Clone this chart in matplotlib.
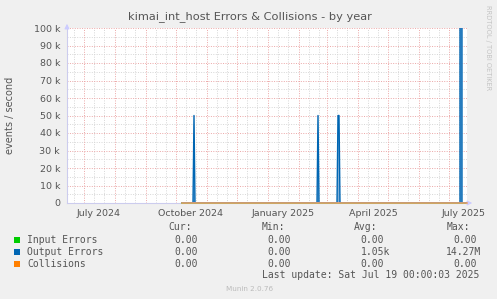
#!/usr/bin/env python3

import numpy as np
import pandas as pd
import matplotlib
matplotlib.use("Agg")
import matplotlib.pyplot as plt
from matplotlib.patches import Rectangle

# --- Data ---
graph_start = "2024-06-14"
graph_end = "2025-07-19"

# output errors: flat zero with a few one-day spikes
output_dates = ["2024-10-07", "2024-10-18", "2024-10-19", "2024-10-20",
                "2025-02-19", "2025-02-20", "2025-02-21",
                "2025-03-11", "2025-03-12", "2025-03-13", "2025-03-14",
                "2025-07-12", "2025-07-13", "2025-07-14", "2025-07-19"]
output_values = [0, 0, 50000, 0,
                 0, 50000, 0,
                 0, 50000, 50000, 0,
                 0, 14270000, 0, 0]

# input errors and collisions stay at zero
flat_dates = ["2024-10-07", "2025-07-19"]
input_values = [0, 0]
collision_values = [0, 0]

y_ticks = [0, 10000, 20000, 30000, 40000, 50000, 60000, 70000, 80000, 90000, 100000]
y_tick_labels = ["0", "10 k", "20 k", "30 k", "40 k", "50 k", "60 k", "70 k", "80 k", "90 k", "100 k"]
x_label_dates = ["2024-07-16", "2024-10-16", "2025-01-16", "2025-04-16", "2025-07-16"]
x_tick_labels = ["July 2024", "October 2024", "January 2025", "April 2025", "July 2025"]

legend_names = ["Input Errors", "Output Errors", "Collisions"]
legend_colors = ["#00cc00", "#0066b3", "#ff8000"]
cur_vals = ["0.00", "0.00", "0.00"]
min_vals = ["0.00", "0.00", "0.00"]
avg_vals = ["0.00", "1.05k", "0.00"]
max_vals = ["0.00", "14.27M", "0.00"]

W, H = 497, 299
BG = "#f0f0f0"
TXT = "#555555"


def px(x, y):
    """pixel coords (top-left origin) -> figure fraction"""
    return x / W, 1 - y / H


fig = plt.figure(figsize=(W / 100, H / 100), dpi=100, facecolor=BG)
ax = fig.add_axes([67 / W, 1 - 203 / H, 400 / W, 175 / H])
ax.set_facecolor("white")

t0 = pd.Timestamp(graph_start)
t1 = pd.Timestamp(graph_end)
ax.set_xlim(t0, t1)
ax.set_ylim(0, 100000)

# --- grid ---
dotted = (0, (1, 1.5))
months = pd.date_range(t0, t1, freq="MS")
for m in months.union(pd.DatetimeIndex([t0.replace(day=1)])):
    for day in (11, 21):
        d = m.replace(day=day)
        if t0 < d < t1:
            ax.axvline(d, color="#d6d6d6", lw=0.7, ls=dotted, zorder=0)
for v in range(5000, 100000, 10000):
    ax.axhline(v, color="#d6d6d6", lw=0.7, ls=dotted, zorder=0)
for d in months:
    ax.axvline(d, color="#eba6a6", lw=0.7, ls=dotted, zorder=1)
for v in y_ticks[1:]:
    ax.axhline(v, color="#eba6a6", lw=0.7, ls=dotted, zorder=1)

# --- series ---
od = pd.to_datetime(output_dates)
fd = pd.to_datetime(flat_dates)
ax.plot(fd, input_values, color=legend_colors[0], lw=1.2, zorder=3, clip_on=False)
ax.fill_between(od, output_values, color="#7fb0d9", lw=0, zorder=3)
ax.plot(od, output_values, color=legend_colors[1], lw=1.0, zorder=4)
ax.plot(fd, collision_values, color="#f0a070", lw=1.2, zorder=5, clip_on=False)

# --- axes styling ---
for s in ["top", "right"]:
    ax.spines[s].set_visible(False)
for s in ["left", "bottom"]:
    ax.spines[s].set_color("#ccccee")
    ax.spines[s].set_linewidth(0.8)

ax.set_yticks(y_ticks)
ax.set_yticklabels(y_tick_labels)
ax.set_xticks(pd.to_datetime(x_label_dates))
ax.set_xticklabels(x_tick_labels)
ax.tick_params(axis="both", length=0, labelsize=6.8, colors=TXT, pad=5)
ax.tick_params(axis="x", pad=4)

# axis arrows
ax.annotate("", xy=(0, 1.04), xytext=(0, 0.99), xycoords="axes fraction",
            arrowprops=dict(arrowstyle="-|>", color="#ccccff", lw=0.8, mutation_scale=7),
            annotation_clip=False)
ax.annotate("", xy=(1.02, 0), xytext=(0.995, 0), xycoords="axes fraction",
            arrowprops=dict(arrowstyle="-|>", color="#ccccff", lw=0.8, mutation_scale=7),
            annotation_clip=False)

# --- titles ---
fig.text(*px(250, 17), "kimai_int_host Errors & Collisions - by year",
         ha="center", va="center", fontsize=8.2, color=TXT)
fig.text(*px(10, 115), "events / second", rotation=90,
         ha="center", va="center", fontsize=7, color=TXT)
fig.text(*px(488, 5), "RRDTOOL / TOBI OETIKER", rotation=270,
         ha="center", va="top", fontsize=4.8, color="#c4c4c4")

# --- legend table ---
mono = dict(family="DejaVu Sans Mono", fontsize=7, color=TXT, va="center")
fig.text(*px(168, 227), "Cur:", ha="left", **mono)
fig.text(*px(262, 227), "Min:", ha="left", **mono)
fig.text(*px(354, 227), "Avg:", ha="left", **mono)
fig.text(*px(447, 227), "Max:", ha="left", **mono)

row_y = [240, 252, 264]
for i, name in enumerate(legend_names):
    y = row_y[i]
    fx, fy = px(14, y + 3)
    fig.patches.append(Rectangle((fx, fy), 6 / W, 6 / H, transform=fig.transFigure,
                                 facecolor=legend_colors[i], edgecolor="none"))
    fig.text(*px(27, y), name, ha="left", **mono)
    fig.text(*px(198, y), cur_vals[i], ha="right", **mono)
    fig.text(*px(291, y), min_vals[i], ha="right", **mono)
    fig.text(*px(384 if avg_vals[i] == "0.00" else 390, y), avg_vals[i], ha="right", **mono)
    fig.text(*px(477 if max_vals[i] == "0.00" else 481, y), max_vals[i], ha="right", **mono)

fig.text(*px(262, 275), "Last update: Sat Jul 19 00:00:03 2025", ha="left", **mono)
fig.text(*px(250, 289), "Munin 2.0.76", ha="center", va="center",
         fontsize=5.2, color="#bbbbbb")

fig.savefig("out.png", dpi=100, facecolor=BG)
